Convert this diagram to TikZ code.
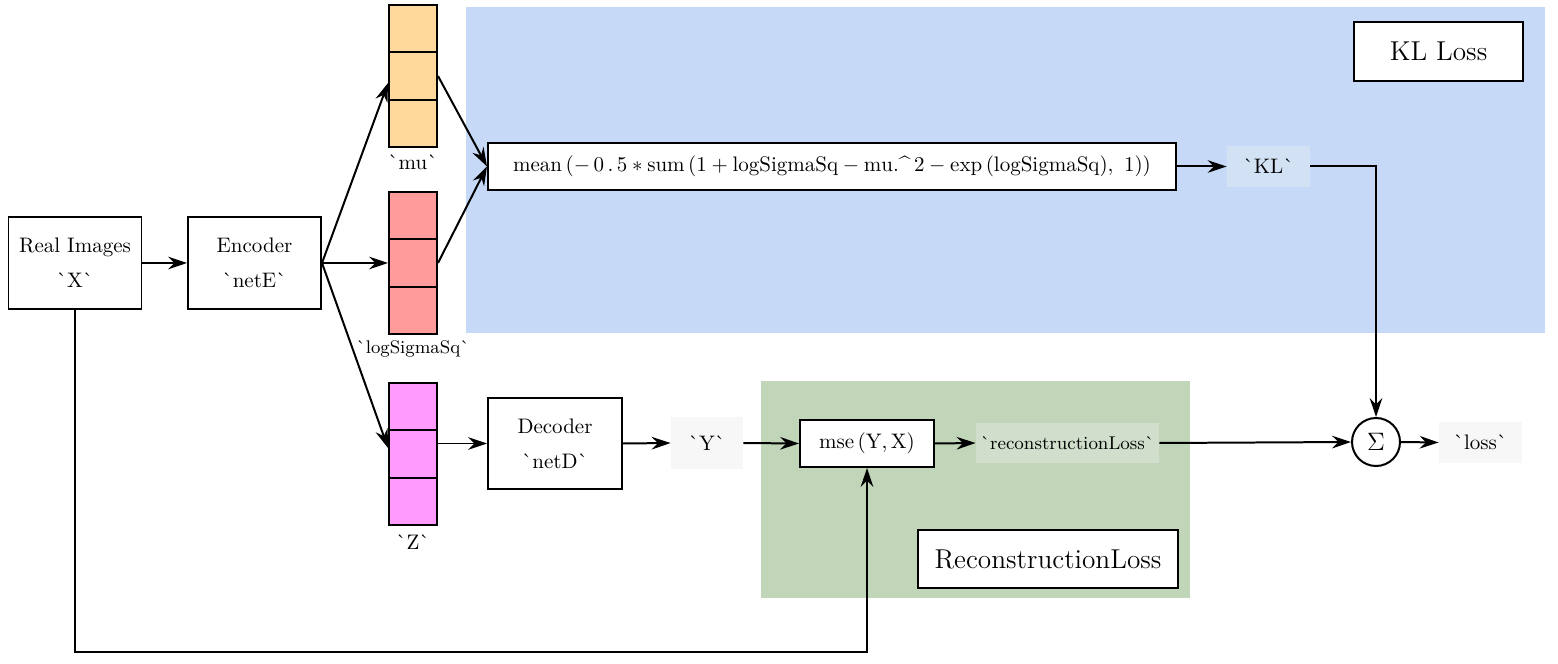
\documentclass[tikz,border=0pt]{standalone}
\usepackage{fontspec}
\usetikzlibrary{arrows.meta,calc}
\def\u{0.47619pt}
\definecolor{bluebg}{RGB}{198,217,247}
\definecolor{greenbg}{RGB}{193,213,185}
\definecolor{klfill}{RGB}{211,225,245}
\definecolor{recfill}{RGB}{209,222,203}
\definecolor{grayfill}{RGB}{247,247,247}
\definecolor{mucol}{RGB}{255,216,155}
\definecolor{lscol}{RGB}{255,155,155}
\definecolor{zcol}{RGB}{255,155,255}
\tikzset{
  lw/.style={line width=0.95pt},
  arr/.style={line width=0.95pt,-{Stealth[length=9pt,width=6pt,inset=3pt]}},
  box/.style={draw,line width=0.95pt,fill=white,inner sep=0pt,align=center,font=\fontsize{10}{16.7}\selectfont},
  sz/.style 2 args={minimum width=#1*\u,minimum height=#2*\u},
  cell/.style={draw,line width=0.95pt,inner sep=0pt,minimum width=48*\u,minimum height=47.33*\u},
  tag/.style={inner sep=0pt,font=\fontsize{10}{12}\selectfont},
  big/.style={font=\fontsize{13}{15}\selectfont}
}
\begin{document}
\begin{tikzpicture}[x=\u,y=-\u]
\useasboundingbox (0,0) rectangle (1558,664);
% background regions
\fill[bluebg] (466,7) rectangle (1545,333);
\fill[greenbg] (761,381) rectangle (1190,598);
% boxes
\node[box,sz={133}{92}] (real) at (75,263) {Real Images\\\textasciigrave X\textasciigrave};
\node[box,sz={133}{92}] (enc) at (254.5,263) {Encoder\\\textasciigrave netE\textasciigrave};
% columns
\node[cell,fill=mucol] (mu1) at (413,28.67) {};
\node[cell,fill=mucol] (mu2) at (413,76) {};
\node[cell,fill=mucol] (mu3) at (413,123.33) {};
\node[cell,fill=lscol] (ls1) at (413,215.67) {};
\node[cell,fill=lscol] (ls2) at (413,263) {};
\node[cell,fill=lscol] (ls3) at (413,310.33) {};
\node[cell,fill=zcol] (z1) at (413,406.67) {};
\node[cell,fill=zcol] (z2) at (413,454) {};
\node[cell,fill=zcol] (z3) at (413,501.33) {};
\node[tag] (mulab) at (413,162) {\textasciigrave mu\textasciigrave};
\node[tag,font=\fontsize{8.7}{10}\selectfont] (lslab) at (413,349) {\textasciigrave logSigmaSq\textasciigrave};
\node[tag] (zlab) at (413,542) {\textasciigrave Z\textasciigrave};
% KL branch
\node[box,sz={688}{47}] (fml) at (832,166.5) {$\mathrm{mean}\,(-\,0\,.\,5 * \mathrm{sum}\,(1+\mathrm{logSigmaSq}-\mathrm{mu.}\mbox{\^{}}\,2-\mathrm{exp}\,(\mathrm{logSigmaSq}),\ 1))$};
\node[tag,fill=klfill,sz={83}{41}] (kl) at (1268.5,166.5) {\textasciigrave KL\textasciigrave};
\node[box,big,sz={169}{59}] (kltitle) at (1438.5,51.5) {KL Loss};
% reconstruction branch
\node[box,sz={134}{91}] (dec) at (555,443.5) {Decoder\\\textasciigrave netD\textasciigrave};
\node[tag,fill=grayfill,sz={72}{52}] (y) at (707,443) {\textasciigrave Y\textasciigrave};
\node[box,sz={134}{47}] (mse) at (867,443.5) {$\mathrm{mse}\,(\mathrm{Y},\mathrm{X})$};
\node[tag,fill=recfill,sz={183}{40},font=\fontsize{8.8}{10}\selectfont] (rec) at (1067.5,443) {\textasciigrave reconstructionLoss\textasciigrave};
\node[box,big,sz={260}{58}] (rectitle) at (1048,559) {ReconstructionLoss};
% sum
\node[draw,circle,line width=0.95pt,fill=white,inner sep=0pt,minimum size=48*\u,big] (sig) at (1376,442) {$\Sigma$};
\node[tag,fill=grayfill,sz={83}{41}] (loss) at (1480.5,442.5) {\textasciigrave loss\textasciigrave};
\coordinate (bot) at (867,652);
% connectors
\draw[arr] (real.east) -- (enc.west);
\draw[arr] (enc.east) -- ([yshift=-7*\u]mu2.west);
\draw[arr] (enc.east) -- (ls2.west);
\draw[arr] (enc.east) -- ([yshift=6*\u]z2.west);
\draw[arr] (mu2.east) -- (fml.west);
\draw[arr] (ls2.east) -- (fml.west);
\draw[arr] (fml.east) -- (kl.west);
\draw[arr] (kl.east) -| (sig.north);
\draw[arr] (dec.west -| z2.east) -- (dec.west);
\draw[arr] (dec.east) -- (y.west);
\draw[arr] (y.east) -- (mse.west);
\draw[arr] (mse.east) -- (rec.west);
\draw[arr] (rec.east) -- (sig.west);
\draw[arr] (sig.east) -- (loss.west);
\draw[arr] (real.south) |- (bot) -- (mse.south);
\end{tikzpicture}
\end{document}
